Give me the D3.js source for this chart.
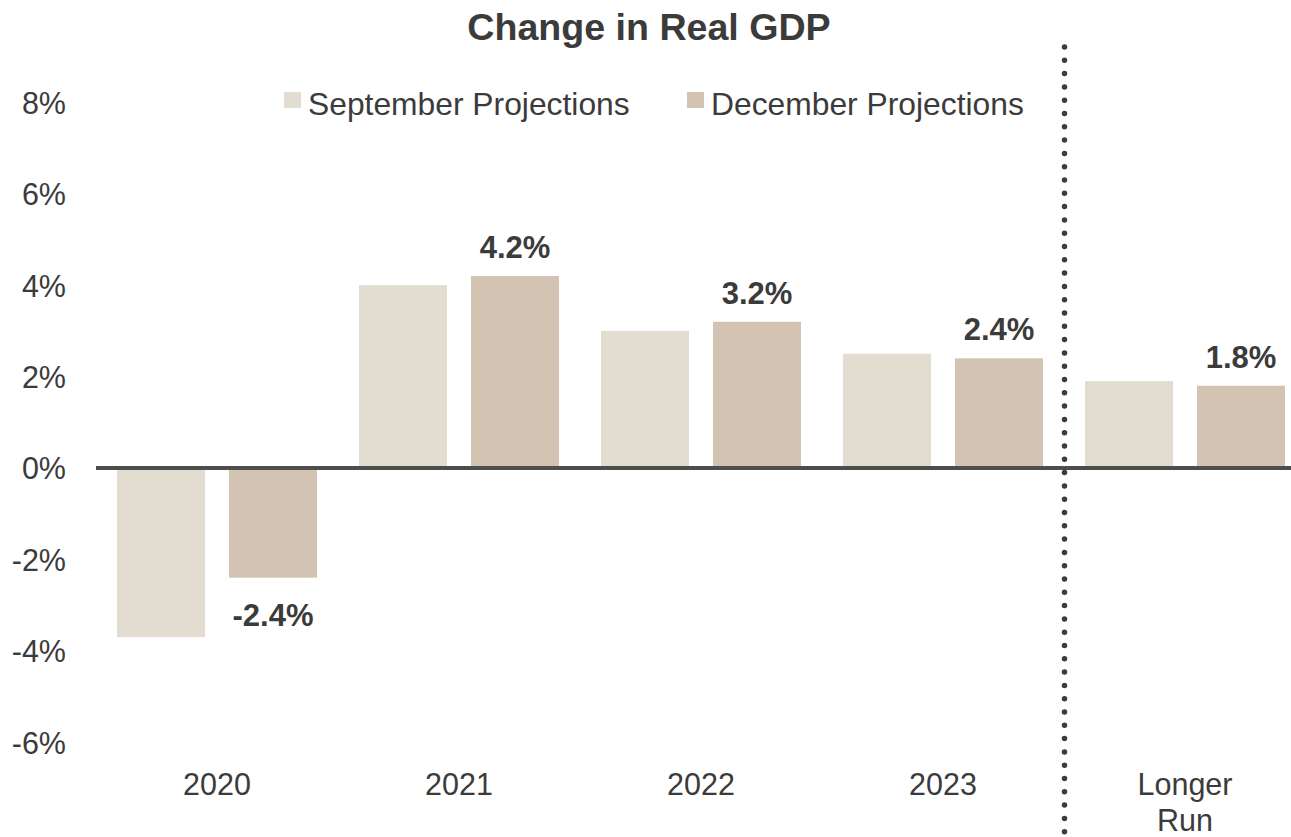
<!DOCTYPE html>
<html>
<head>
<meta charset="utf-8">
<script src="https://cdn.jsdelivr.net/npm/d3@7"></script>
<style>
  html, body { margin: 0; padding: 0; background: #fff; }
  svg { display: block; font-family: "Liberation Sans", Arial, Helvetica, sans-serif; }
</style>
</head>
<body>
<svg id="chart" width="1291" height="837"></svg>
<script>
const categories = ["2020", "2021", "2022", "2023", "Longer Run"];
const septemberValues = [-3.7, 4.0, 3.0, 2.5, 1.9];
const decemberValues = [-2.4, 4.2, 3.2, 2.4, 1.8];
const seriesNames = ["September Projections", "December Projections"];
const yTicks = [-6, -4, -2, 0, 2, 4, 6, 8];
const title = "Change in Real GDP";

const colors = ["#e3dcd1", "#d3c3b2"];
const textColor = "#3b3b3b";

const svg = d3.select("#chart");
const W = 1291, H = 837;

const x = d3.scaleBand().domain(categories).range([96, 1306]).padding(0);
const xInner = d3.scaleBand().domain([0, 1]).range([21, 221]).paddingInner(0.2143).paddingOuter(0);
const y = d3.scaleLinear().domain([-6, 8]).range([742.2, 102.4]);

// Title
svg.append("text")
  .attr("x", 649).attr("y", 40)
  .attr("text-anchor", "middle")
  .attr("font-size", 37.6).attr("font-weight", "bold")
  .attr("fill", textColor)
  .text(title);

// Y axis labels
const yAxis = d3.axisLeft(y).tickValues(yTicks).tickFormat(d => d + "%").tickSize(0).tickPadding(0);
const yg = svg.append("g").attr("transform", "translate(66,0)").call(yAxis);
yg.select(".domain").remove();
yg.selectAll("text").attr("font-size", 30.5).attr("fill", textColor)
  .attr("font-family", "'Liberation Sans', Arial, sans-serif").attr("dy", "0.36em");

// Bars
const rows = categories.map((c, i) => ({ cat: c, vals: [septemberValues[i], decemberValues[i]] }));
const groups = svg.append("g").selectAll("g").data(rows).join("g")
  .attr("transform", d => `translate(${x(d.cat)},0)`);
groups.selectAll("rect").data(d => d.vals.map((v, k) => ({ v, k }))).join("rect")
  .attr("x", d => xInner(d.k))
  .attr("width", xInner.bandwidth())
  .attr("y", d => Math.min(y(d.v), y(0)))
  .attr("height", d => Math.abs(y(d.v) - y(0)))
  .attr("fill", d => colors[d.k]);

// Value labels (December)
groups.append("text")
  .attr("x", xInner(1) + xInner.bandwidth() / 2)
  .attr("y", d => d.vals[1] >= 0 ? y(d.vals[1]) - 18 : y(d.vals[1]) + 48)
  .attr("text-anchor", "middle")
  .attr("font-size", 31).attr("font-weight", "bold")
  .attr("fill", textColor)
  .text(d => d.vals[1].toFixed(1) + "%");

// Zero line
svg.append("line")
  .attr("x1", 96).attr("x2", W)
  .attr("y1", y(0)).attr("y2", y(0))
  .attr("stroke", "#4d4d4d").attr("stroke-width", 4);

// Dotted separator
const sepX = x("Longer Run") + 0.5;
svg.append("line")
  .attr("x1", sepX).attr("x2", sepX)
  .attr("y1", 47).attr("y2", H)
  .attr("stroke", "#3c3c3c").attr("stroke-width", 5.5)
  .attr("stroke-linecap", "round")
  .attr("stroke-dasharray", "0 13.3");

// Category labels
const xAxisG = svg.append("g");
categories.forEach(c => {
  const parts = c === "Longer Run" ? ["Longer", "Run"] : [c];
  const t = xAxisG.append("text")
    .attr("x", x(c) + x.bandwidth() / 2)
    .attr("y", 795)
    .attr("text-anchor", "middle")
    .attr("font-size", 30.5).attr("fill", textColor);
  parts.forEach((p, i) => {
    t.append("tspan").attr("x", x(c) + x.bandwidth() / 2).attr("dy", i === 0 ? 0 : 36).text(p);
  });
});

// Legend
const legendX = [284, 687];
seriesNames.forEach((n, i) => {
  svg.append("rect").attr("x", legendX[i]).attr("y", 92).attr("width", 17).attr("height", 16).attr("fill", colors[i]);
  svg.append("text").attr("x", legendX[i] + 24).attr("y", 115)
    .attr("font-size", 31.8).attr("fill", textColor).text(n);
});
</script>
</body>
</html>
